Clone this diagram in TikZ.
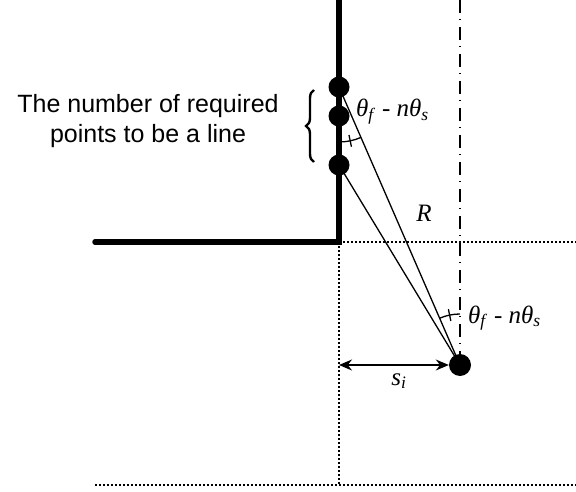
\documentclass[tikz,border=0pt]{standalone}
\usepackage{fontspec}
\setmainfont{Liberation Serif}
\newfontfamily\labsans{Liberation Sans}
\usetikzlibrary{calc,arrows.meta,decorations.pathreplacing}
\newcommand\angtext{\textit{θ}\textsubscript{\textit{f}} - \textit{nθ}\textsubscript{\textit{s}}}
\begin{document}
\begin{tikzpicture}[x=1pt,y=-1pt,
  wall/.style={line width=5.5pt},
  guide/.style={line width=1.3pt, dash pattern=on 2pt off 2pt},
  axisline/.style={line width=1.8pt, dash pattern=on 13pt off 6pt on 1pt off 7pt},
  ray/.style={line width=1.3pt},
  dotpt/.style={circle, fill=black, inner sep=0pt, minimum size=21pt},
  robotpt/.style={circle, fill=black, inner sep=0pt, minimum size=22pt},
  mlab/.style={font=\fontsize{25}{30}\selectfont, inner sep=0pt},
  slab/.style={font=\labsans\fontsize{25}{30}\selectfont, inner sep=0pt, align=center},
  dimarrow/.style={{Stealth[length=13pt,width=11pt]}-{Stealth[length=13pt,width=11pt]}}]
\useasboundingbox (0,0) rectangle (576,492);
\coordinate (top) at (339,0);
\coordinate (corner) at (339,242);
\coordinate (wallend) at (95,242);
\coordinate (c1) at (339,87);
\coordinate (c2) at (339,116);
\coordinate (c3) at (339,165);
\coordinate (rc) at (460,365);
\coordinate (gR) at (576,242);
\coordinate (gB) at (339,485);
\coordinate (gBL) at (95,485);
\coordinate (gBR) at (576,485);
\coordinate (axtop) at (460,0);
\coordinate (sL) at (339,365);
\coordinate (brB) at (314,162);
\coordinate (brT) at (314,90);
% guides
\draw[guide] (corner) -- (gR);
\draw[guide] (corner) -- (gB);
\draw[guide] (gBL) -- (gBR);
\draw[axisline] (axtop) -- (rc);
% wall
\draw[wall, line cap=round] (top) -- (corner) -- (wallend);
% rays
\draw[ray] (c1) -- (rc);
\draw[ray] (c3) -- (rc);
% points
\node[dotpt] (p1) at (c1) {};
\node[dotpt] (p2) at (c2) {};
\node[dotpt] (p3) at (c3) {};
\node[robotpt] (rob) at (rc) {};
% angles
\draw[ray] ($(c1)+(270:55pt)$) arc[start angle=270, end angle=293.5, radius=55pt];
\draw[ray] ($(c1)+(281.75:49pt)$) -- ($(c1)+(281.75:61pt)$);
\draw[ray] ($(rc)+(90:51pt)$) arc[start angle=90, end angle=113.5, radius=51pt];
\draw[ray] ($(rc)+(101.75:45pt)$) -- ($(rc)+(101.75:57pt)$);
% s_i arrow
\draw[ray, dimarrow] (sL) -- (rob.west);
% brace
\draw[line width=2.4pt, decorate, decoration={brace, amplitude=8pt, aspect=0.5}] (brB) -- (brT);
% labels
\node[slab] (cap) at (148,121) {The number of required\\points to be a line};
\node[mlab, anchor=base west] (a1) at (356,117) {\angtext};
\node[mlab, anchor=base west] (a2) at (468,323) {\angtext};
\node[mlab, anchor=base] (rl) at (424,222) {\textit{R}};
\node[mlab, anchor=base] (sl) at (399,385) {\textit{s}\textsubscript{\textit{i}}};
\end{tikzpicture}
\end{document}
